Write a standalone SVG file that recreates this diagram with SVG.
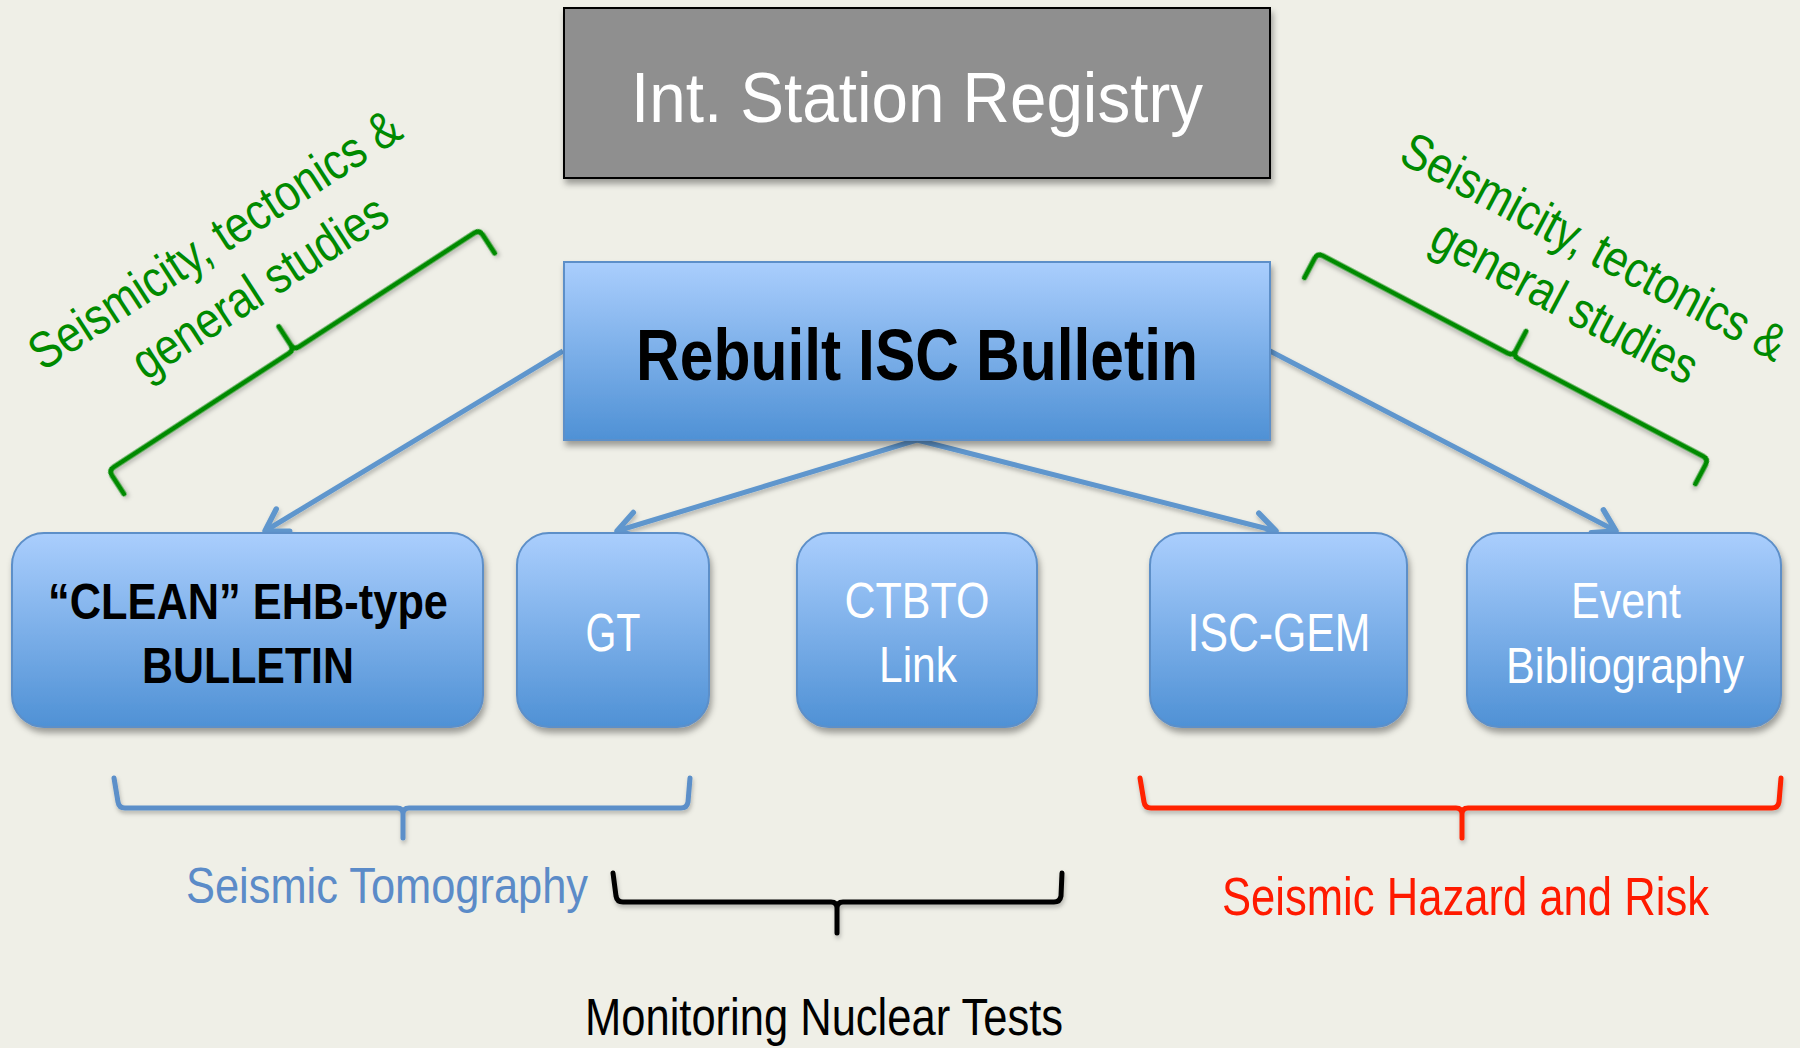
<svg xmlns="http://www.w3.org/2000/svg" width="1800" height="1048" viewBox="0 0 1800 1048">
  <defs>
    <linearGradient id="blueGrad" x1="0" y1="0" x2="0" y2="1">
      <stop offset="0" stop-color="#aacefd"/>
      <stop offset="1" stop-color="#4f91d5"/>
    </linearGradient>
    <filter id="shadow" x="-10%" y="-10%" width="120%" height="130%">
      <feDropShadow dx="2" dy="5" stdDeviation="3" flood-color="#000" flood-opacity="0.35"/>
    </filter>
    <filter id="lshadow" x="-10%" y="-20%" width="120%" height="150%">
      <feDropShadow dx="1" dy="3" stdDeviation="2" flood-color="#000" flood-opacity="0.25"/>
    </filter>
    <marker id="arr" viewBox="-28 -18 34 36" refX="0" refY="0" markerWidth="34" markerHeight="36" markerUnits="userSpaceOnUse" orient="auto">
      <path d="M-21,-13 L0,0 L-21,13" fill="none" stroke="#5f96cd" stroke-width="5.5" stroke-linecap="round" stroke-linejoin="round"/>
    </marker>
    <style>
      .node { fill: url(#blueGrad); stroke: #5d8fc8; stroke-width: 2; filter: url(#shadow); }
      .wt { font-family: "Liberation Sans", Arial, sans-serif; fill: #ffffff; text-anchor: middle; }
      .bk { font-family: "Liberation Sans", Arial, sans-serif; fill: #000000; text-anchor: middle; font-weight: bold; }
      .conn { stroke: #5f96cd; stroke-width: 5; fill: none; marker-end: url(#arr); filter: url(#lshadow); }
      .brace { fill: none; stroke-width: 5; stroke-linecap: round; stroke-linejoin: round; filter: url(#lshadow); }
      .green { font-family: "Liberation Sans", Arial, sans-serif; fill: #008a00; font-size: 51px; text-anchor: middle; }
      .lbl { font-family: "Liberation Sans", Arial, sans-serif; }
    </style>
  </defs>

  <rect x="0" y="0" width="1800" height="1048" fill="#efefe7"/>

  <!-- Connectors -->
  <g id="connectors">
    <line class="conn" x1="917" y1="178" x2="917" y2="259"/>
    <line class="conn" x1="563" y1="351" x2="265" y2="531"/>
    <line class="conn" x1="917" y1="440" x2="617" y2="531"/>
    <line class="conn" x1="917" y1="440" x2="917" y2="530"/>
    <line class="conn" x1="917" y1="440" x2="1276" y2="531"/>
    <line class="conn" x1="1270" y1="351" x2="1616" y2="531"/>
  </g>

  <!-- Top node -->
  <g id="node-registry">
    <rect x="564" y="8" width="706" height="170" fill="#8f8f8f" stroke="#000" stroke-width="2" filter="url(#shadow)"/>
    <text class="wt" x="917" y="122" font-size="70" textLength="572" lengthAdjust="spacingAndGlyphs">Int. Station Registry</text>
  </g>

  <g id="node-rebuilt">
    <rect class="node" x="564" y="262" width="706" height="178"/>
    <text class="bk" x="917" y="380" font-size="72" textLength="562" lengthAdjust="spacingAndGlyphs">Rebuilt ISC Bulletin</text>
  </g>

  <g id="node-clean">
    <rect class="node" x="12" y="533" width="471" height="194" rx="32" ry="32"/>
    <text class="bk" x="248" y="619" font-size="50" textLength="400" lengthAdjust="spacingAndGlyphs">“CLEAN” EHB-type</text>
    <text class="bk" x="248" y="683" font-size="50" textLength="212" lengthAdjust="spacingAndGlyphs">BULLETIN</text>
  </g>

  <g id="node-gt">
    <rect class="node" x="517" y="533" width="192" height="194" rx="32" ry="32"/>
    <text class="wt" x="613" y="651" font-size="53" textLength="55" lengthAdjust="spacingAndGlyphs">GT</text>
  </g>

  <g id="node-ctbto">
    <rect class="node" x="797" y="533" width="240" height="194" rx="32" ry="32"/>
    <text class="wt" x="917" y="618" font-size="50" textLength="145" lengthAdjust="spacingAndGlyphs">CTBTO</text>
    <text class="wt" x="918" y="682" font-size="50" textLength="78" lengthAdjust="spacingAndGlyphs">Link</text>
  </g>

  <g id="node-iscgem">
    <rect class="node" x="1150" y="533" width="257" height="194" rx="32" ry="32"/>
    <text class="wt" x="1279" y="651" font-size="53" textLength="183" lengthAdjust="spacingAndGlyphs">ISC-GEM</text>
  </g>

  <g id="node-event">
    <rect class="node" x="1467" y="533" width="314" height="194" rx="32" ry="32"/>
    <text class="wt" x="1626" y="618" font-size="50" textLength="110" lengthAdjust="spacingAndGlyphs">Event</text>
    <text class="wt" x="1625" y="683" font-size="50" textLength="238" lengthAdjust="spacingAndGlyphs">Bibliography</text>
  </g>

  <!-- Green braces and labels -->
  <g id="brace-left-green">
    <path class="brace" stroke="#008a00" transform="translate(294,350) rotate(-33)" d="M-221,28 L-221,6 Q-221,0 -215,0 L-6,0 Q0,0 0,-6 L0,-28 M0,-6 Q0,0 6,0 L215,0 Q221,0 221,6 L221,28"/>
    <g transform="translate(224,254) rotate(-33)">
      <text class="green" x="0" y="0" textLength="432" lengthAdjust="spacingAndGlyphs">Seismicity, tectonics &amp;</text>
      <text class="green" x="12" y="64" textLength="294" lengthAdjust="spacingAndGlyphs">general studies</text>
    </g>
  </g>

  <g id="brace-right-green">
    <path class="brace" stroke="#008a00" transform="translate(1513,356) rotate(27.8)" d="M-221,28 L-221,6 Q-221,0 -215,0 L-6,0 Q0,0 0,-6 L0,-28 M0,-6 Q0,0 6,0 L215,0 Q221,0 221,6 L221,28"/>
    <g transform="translate(1586,262) rotate(28)">
      <text class="green" x="0" y="0" textLength="428" lengthAdjust="spacingAndGlyphs">Seismicity, tectonics &amp;</text>
      <text class="green" x="0" y="62" textLength="294" lengthAdjust="spacingAndGlyphs">general studies</text>
    </g>
  </g>

  <!-- Bottom braces and labels -->
  <g id="brace-tomography">
    <path class="brace" stroke="#5b8fc9" d="M114,778 L118,802 Q119,808 125,808 L397,808 Q403,808 403,814 L403,838 M403,814 Q403,808 409,808 L681,808 Q687,808 688,802 L690,778"/>
    <text class="lbl" x="186" y="903" font-size="50" fill="#5b8bc8" textLength="402" lengthAdjust="spacingAndGlyphs">Seismic Tomography</text>
  </g>

  <g id="brace-nuclear">
    <path class="brace" stroke="#000000" d="M613,873 L616,896 Q617,902 623,902 L831,902 Q837,902 837,908 L837,933 M837,908 Q837,902 843,902 L1054,902 Q1060,902 1061,896 L1062,873"/>
    <text class="lbl" x="585" y="1035" font-size="51" fill="#000000" textLength="478" lengthAdjust="spacingAndGlyphs">Monitoring Nuclear Tests</text>
  </g>

  <g id="brace-hazard">
    <path class="brace" stroke="#ff2200" d="M1140,778 L1144,802 Q1145,808 1151,808 L1456,808 Q1462,808 1462,814 L1462,838 M1462,814 Q1462,808 1468,808 L1772,808 Q1778,808 1779,802 L1781,778"/>
    <text class="lbl" x="1222" y="915" font-size="53" fill="#ff1a00" textLength="487" lengthAdjust="spacingAndGlyphs">Seismic Hazard and Risk</text>
  </g>
</svg>
